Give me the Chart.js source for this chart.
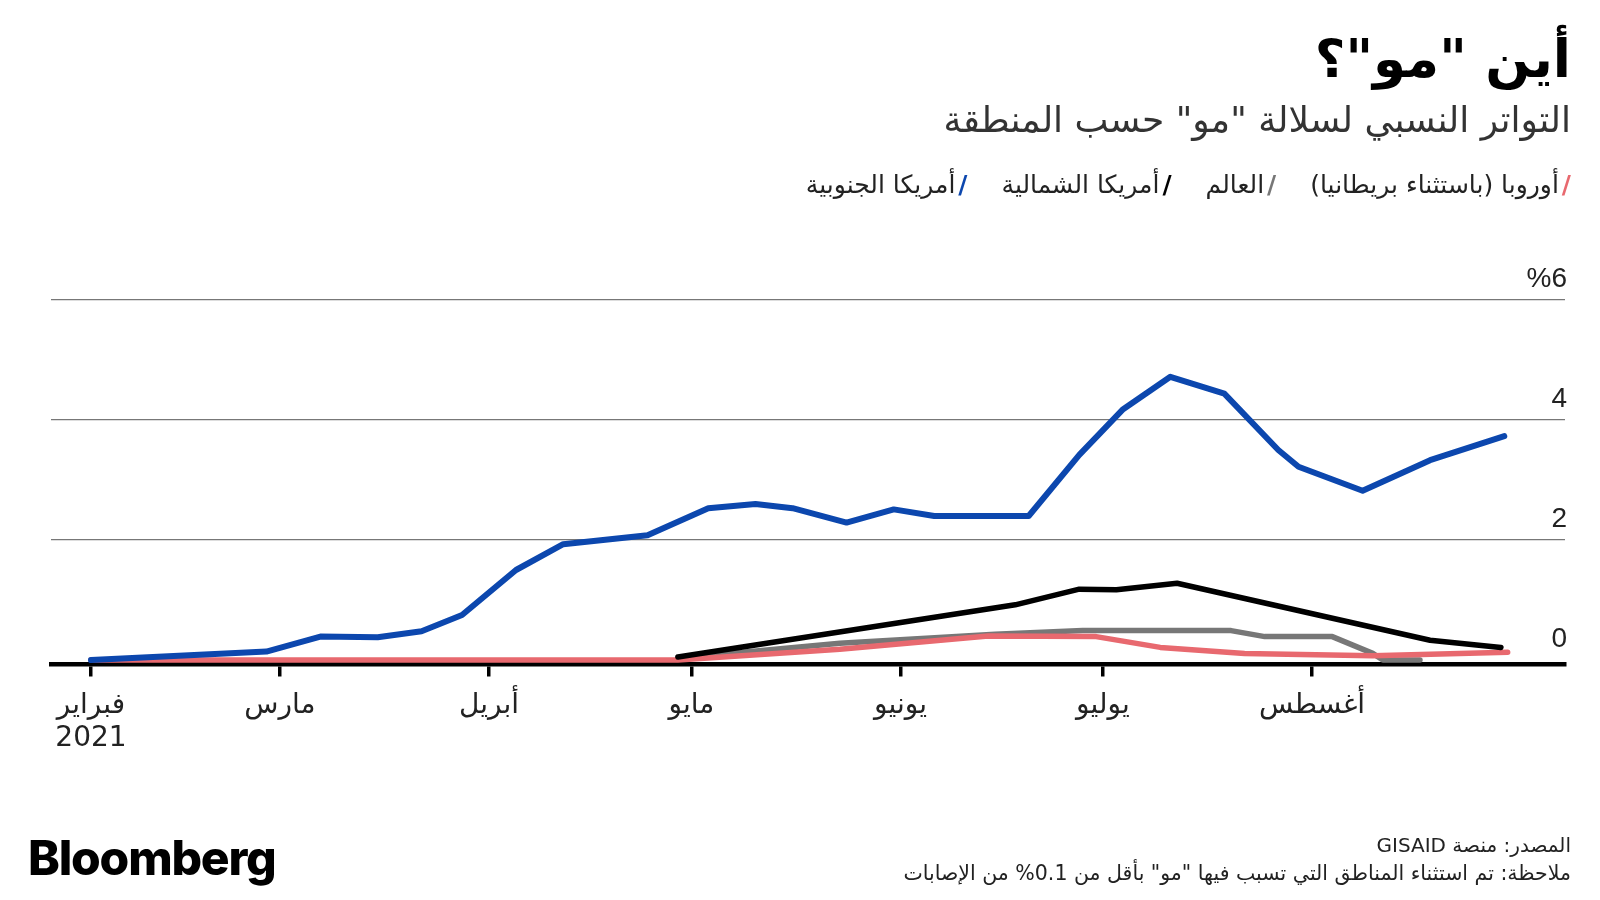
<!DOCTYPE html>
<html lang="ar">
<head>
<meta charset="utf-8">
<script src="https://cdn.jsdelivr.net/npm/chart.js@4.4.1/dist/chart.umd.min.js"></script>
<style>
html,body{margin:0;padding:0;background:#fff;width:1600px;height:900px;overflow:hidden;}
body{position:relative;font-family:"DejaVu Sans",sans-serif;}
#wrap{position:absolute;left:0;top:0;width:1600px;height:900px;}
.t{position:absolute;right:29px;direction:rtl;white-space:nowrap;line-height:1;}
#title{top:32px;font-size:53px;font-weight:700;color:#000;}
#sub{top:102px;font-size:36px;color:#333;}
#legend{top:172px;font-size:25px;color:#222;display:flex;flex-direction:row;gap:34px;}
#legend .sw{font-weight:700;margin-left:3px;}
#src{top:835px;font-size:20px;color:#222;}
#note{top:863px;font-size:20.5px;color:#222;}
#logo{position:absolute;left:28px;top:834px;font-family:Inter,"Liberation Sans",sans-serif;font-weight:800;font-size:48px;letter-spacing:-1.2px;color:#000;line-height:1;}
</style>
</head>
<body>
<div id="wrap"><canvas id="c" width="1600" height="900"></canvas></div>
<div class="t" id="title">أين "مو"؟</div>
<div class="t" id="sub">التواتر النسبي لسلالة "مو" حسب المنطقة</div>
<div class="t" id="legend"></div>
<div class="t" id="src">المصدر: منصة GISAID</div>
<div class="t" id="note">ملاحظة: تم استثناء المناطق التي تسبب فيها "مو" بأقل من 0.1% من الإصابات</div>
<div id="logo">Bloomberg</div>
<script>
// ---- data (days since 1 Feb 2021) ----
const tickDays = [0, 28, 59, 89, 120, 150, 181];
const tickLabels = [['فبراير', '2021'], 'مارس', 'أبريل', 'مايو', 'يونيو', 'يوليو', 'أغسطس'];
const yTickValues = [0, 2, 4, 6];
const yTickLabels = ['0', '2', '4', '%6'];

const seriesNames = ['أوروبا (باستثناء بريطانيا)', 'العالم', 'أمريكا الشمالية', 'أمريكا الجنوبية'];
const seriesColors = ['#e8696f', '#777777', '#000000', '#0c47ae'];

const europeDays = [0, 87, 111, 133, 149, 158.5, 171, 190, 210];
const europeValues = [0, 0, 0.18, 0.40, 0.39, 0.21, 0.11, 0.07, 0.13];
const worldDays = [87, 111, 134, 147, 169, 174, 184, 190, 191.5, 197];
const worldValues = [0.03, 0.28, 0.43, 0.49, 0.49, 0.39, 0.39, 0.11, 0, 0];
const northDays = [87, 137, 146.5, 152, 161, 198.5, 209];
const northValues = [0.05, 0.92, 1.18, 1.17, 1.28, 0.33, 0.21];
const southDays = [0, 26, 34, 42.5, 49, 55, 63, 70, 82.5, 91.5, 98.5, 104, 112, 119, 125, 139, 146.5, 153, 160, 168, 176, 179, 188.5, 198.5, 209.5];
const southValues = [0, 0.14, 0.39, 0.38, 0.48, 0.75, 1.5, 1.93, 2.08, 2.53, 2.6, 2.53, 2.29, 2.51, 2.4, 2.4, 3.42, 4.18, 4.72, 4.44, 3.5, 3.22, 2.82, 3.33, 3.73];

// ---- legend ----
const legend = document.getElementById('legend');
seriesNames.forEach((n, i) => {
  const it = document.createElement('span');
  const sw = document.createElement('span');
  sw.className = 'sw'; sw.style.color = seriesColors[i]; sw.textContent = '/';
  it.appendChild(sw);
  it.appendChild(document.createTextNode(n));
  legend.appendChild(it);
});

const pts = (d, v) => d.map((x, i) => ({x: x, y: v[i]}));
const mk = (i, d, v, w, order) => ({
  label: seriesNames[i], data: pts(d, v), borderColor: seriesColors[i],
  borderWidth: w, pointRadius: 0, tension: 0, fill: false,
  borderCapStyle: 'round', borderJoinStyle: 'round', order: order
});

const numFont = {family: '"Liberation Sans", "DejaVu Sans", sans-serif', size: 28};

new Chart(document.getElementById('c'), {
  type: 'line',
  data: {
    datasets: [
      mk(0, europeDays, europeValues, 5.5, 2),
      mk(1, worldDays, worldValues, 5.5, 3),
      mk(2, northDays, northValues, 5.5, 1),
      mk(3, southDays, southValues, 6, 0)
    ]
  },
  options: {
    responsive: false,
    animation: false,
    layout: {padding: {left: 51, right: 35, top: 300, bottom: 145.5}},
    plugins: {legend: {display: false}, tooltip: {enabled: false}},
    scales: {
      x: {
        type: 'linear', min: -5.93, max: 218.5,
        afterBuildTicks: s => { s.ticks = tickDays.map(v => ({value: v})); },
        afterFit: s => { s.height = 90; },
        ticks: {
          autoSkip: false, maxRotation: 0, padding: 12, color: '#222',
          font: {family: '"DejaVu Sans", sans-serif', size: 28},
          callback: (v) => { const k = tickDays.indexOf(v); return k >= 0 ? tickLabels[k] : ''; }
        },
        grid: {drawOnChartArea: false, drawTicks: true, tickLength: 12, color: '#000', lineWidth: 3.5},
        border: {display: true, color: '#000', width: 4.5}
      },
      y: {
        position: 'right', min: -0.075, max: 6,
        afterBuildTicks: s => { s.ticks = yTickValues.map(v => ({value: v})); },
        afterFit: s => { s.width = 0; },
        ticks: {
          mirror: true, padding: 2, labelOffset: -21, color: '#222', font: numFont,
          callback: (v) => { const k = yTickValues.indexOf(v); return k >= 0 ? yTickLabels[k] : ''; }
        },
        grid: {drawTicks: false, color: (ctx) => ctx.tick && ctx.tick.value === 0 ? 'rgba(0,0,0,0)' : '#777', lineWidth: 1.3},
        border: {display: false}
      }
    }
  }
});
</script>
</body>
</html>
